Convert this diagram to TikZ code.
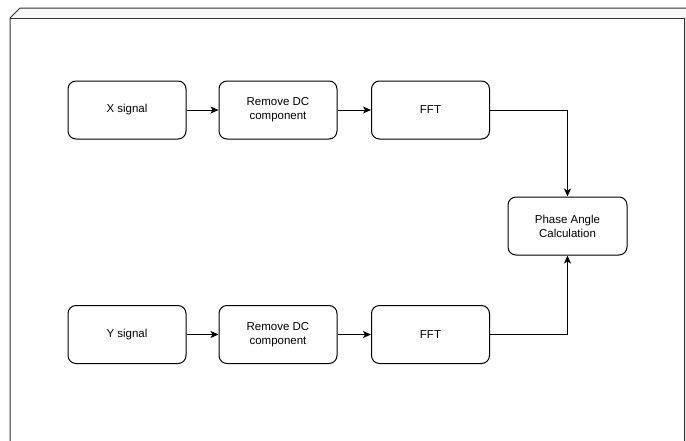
\documentclass[tikz,border=0pt]{standalone}
\usepackage{fontspec}
\setmainfont{Liberation Sans}
\usetikzlibrary{arrows.meta}
\begin{document}
\begin{tikzpicture}[x=1pt,y=-1pt,
  blockbox/.style={draw=black, line width=1pt, rounded corners=8pt, fill=white,
    minimum width=118pt, minimum height=58pt, align=center, inner sep=0pt,
    font=\fontsize{11.5pt}{14pt}\selectfont},
  flow/.style={draw=black, line width=1pt, -{Stealth[length=8pt,width=7pt,inset=2pt]}},
  frameline/.style={draw=black!80, line width=1pt}]
\useasboundingbox (0,0) rectangle (686,440);
\begin{scope}
\clip (0,0) rectangle (686,440);
% cube-shaped frame: top face, right side face, front face
\fill[black!3] (10,18) -- (20,8) -- (700,8) -- (684,18) -- cycle;
\fill[black!10] (684,18) -- (700,8) -- (700,450) -- (684,450) -- cycle;
\draw[frameline] (10,450) -- (10,18) -- (20,8) -- (700,8);
\draw[frameline] (10,18) -- (684,18) -- (684,450);
\end{scope}
% upper row
\node[blockbox] (xs)  at (127,110) {X signal};
\node[blockbox] (xdc) at (278,110) {Remove DC\\component};
\node[blockbox] (xf)  at (430.5,110) {FFT};
% lower row
\node[blockbox] (ys)  at (127,334.5) {Y signal};
\node[blockbox] (ydc) at (278,334.5) {Remove DC\\component};
\node[blockbox] (yf)  at (430.5,334.5) {FFT};
% combining block
\node[blockbox, minimum width=119pt] (pa) at (567.5,226) {Phase Angle\\Calculation};
% connectors
\draw[flow] (xs) -- (xdc);
\draw[flow] (xdc) -- (xf);
\draw[flow] (ys) -- (ydc);
\draw[flow] (ydc) -- (yf);
\draw[flow] (xf.east) -| (pa.north);
\draw[flow] (yf.east) -| (pa.south);
\end{tikzpicture}
\end{document}
